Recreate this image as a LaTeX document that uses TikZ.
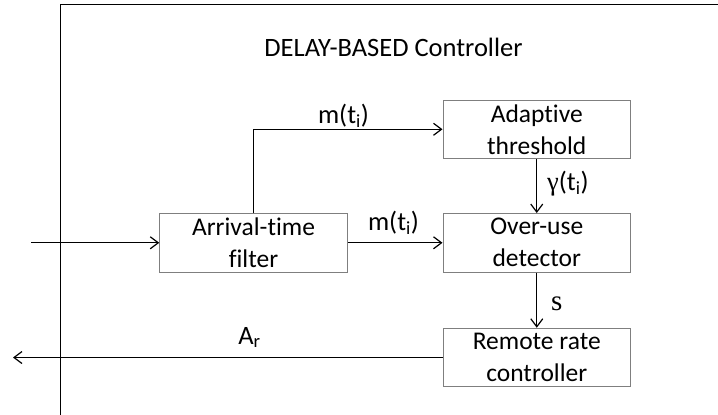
\documentclass[tikz,border=0pt]{standalone}
\usepackage{fontspec}
\setmainfont{Carlito}[RawFeature={-liga;-clig;-calt;-dlig}]
\newfontfamily\serifgk{Liberation Serif}
\usetikzlibrary{arrows.meta}
\definecolor{boxgray}{HTML}{7F7F7F}
\tikzset{
  blk/.style={draw=boxgray, line width=1pt, rectangle, minimum width=187.5pt, minimum height=58.5pt, inner sep=0pt, align=center, font=\fontsize{25.5}{32}\selectfont},
  conn/.style={draw=black, line width=1.3pt, -{Straight Barb[length=8pt,width=12pt,line width=1.2pt]}},
  lbl/.style={inner sep=0pt, anchor=base, font=\fontsize{26.5}{32}\selectfont},
  frameline/.style={draw=black, line width=1pt}
}
\begin{document}
\begin{tikzpicture}[x=1pt,y=-1pt]
\useasboundingbox (0,0) rectangle (718,415);
% frame
\coordinate (fb) at (60.5,415);
\coordinate (ftl) at (60.5,4.5);
\coordinate (fr) at (718,4.5);
\draw[frameline] (fb) -- (ftl) -- (fr);
% title
\node[lbl] (title) at (393.5,56) {DELAY-BASED Controller};
% blocks
\node[blk] (arrival) at (253.5,242.8) {Arrival-t\kern0pt ime\\f\kern0pt ilter};
\node[blk] (adaptive) at (536.75,129.3) {Adapt\kern0pt ive\\threshold};
\node[blk] (overuse) at (536.75,242.8) {Over-use\\detector};
\node[blk] (remote) at (536.75,357.5) {Remote rate\\controller};
% connectors
\coordinate (in) at (31,242.8);
\coordinate (out) at (13,357.5);
\draw[conn] (in) -- (arrival.west);
\draw[conn] (arrival.east) -- (overuse.west);
\draw[conn] (arrival.north) |- (adaptive.west);
\draw[conn] (adaptive.south) -- (overuse.north);
\draw[conn] (overuse.south) -- (remote.north);
\draw[conn] (remote.west) -- (out);
% labels
\node[lbl] (m1) at (343.5,123) {m(t\textsubscript{i})};
\node[lbl] (m2) at (393.5,230) {m(t\textsubscript{i})};
\node[lbl, anchor=base west] (g) at (547,190) {{\serifgk γ}(t\textsubscript{i})};
\node[lbl, anchor=base west] (s) at (551,310) {{\serifgk\fontsize{29}{32}\selectfont s}};
\node[lbl] (ar) at (249.5,344) {A\textsubscript{r}};
\end{tikzpicture}
\end{document}
